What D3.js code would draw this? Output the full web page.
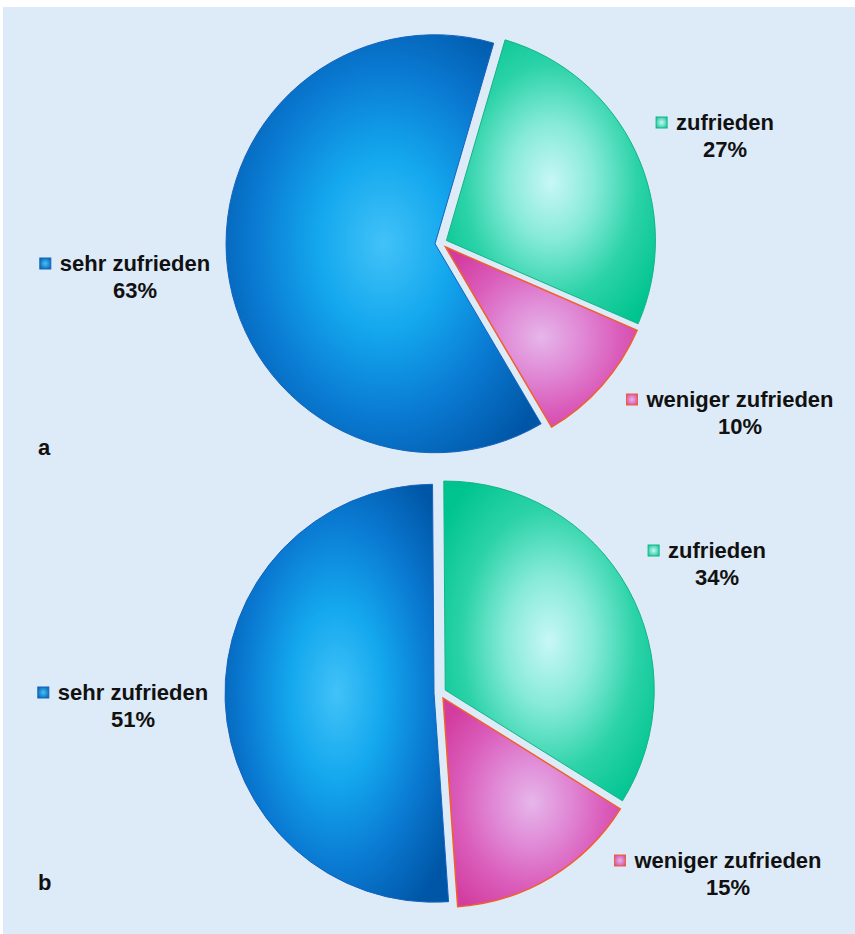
<!DOCTYPE html>
<html>
<head>
<meta charset="utf-8">
<title>Zufriedenheit</title>
<script src="https://cdn.jsdelivr.net/npm/d3@7/dist/d3.min.js"></script>
<style>
    body { margin:0; background:#fff; }
    svg { display:block; }
    .lbl { font-family:'Liberation Sans', Arial, sans-serif; font-weight:bold; font-size:22px; fill:#111; }
</style>
</head>
<body>
<svg id="svg" width="855" height="934"></svg>
<script>
// data
const categories = ["sehr zufrieden", "zufrieden", "weniger zufrieden"];
const valuesA = [63, 27, 10];
const valuesB = [51, 34, 15];
const panelLabels = ["a", "b"];

// look
const fills = [
    ["#42c2f8", "#14a8ee", "#0a7ad2", "#0056a6"],
    ["#c8f7f6", "#86ead9", "#2cd3a8", "#00c48f"],
    ["#e6b6ea", "#e08ad6", "#da5cba", "#d23c9e"]
];
const strokes = ["#1464c0", "#14b486", "#f0602a"];

const W = 855, H = 934;
const radius = 209;
const explode = 6;

// pie centre, start angle (deg) and label anchors (relative to centre)
const pies = [
    { values: valuesA, cx: 441, cy: 243, start: -210.5,
      labels: [[-306, 28], [284, -113], [299, 164]], tag: [38, 455] },
    { values: valuesB, cx: 440, cy: 693, start: -184,
      labels: [[-307, 7], [277, -135], [288, 175]], tag: [38, 890] }
];

let svg = d3.select('#svg');
svg.append('rect')
    .attr('x', 3).attr('y', 7)
    .attr('width', W - 3).attr('height', H - 7)
    .attr('fill', '#ddeaf7');

let defs = svg.append('defs');
fills.forEach((stops, i) => {
    let g = defs.append('radialGradient')
        .attr('id', 'grad' + i)
        .attr('cx', '50%').attr('cy', '50%').attr('r', '62%');
    stops.forEach((c, j) => {
        g.append('stop')
            .attr('offset', (j / (stops.length - 1) * 100) + '%')
            .attr('stop-color', c);
    });
    // small legend key gradient
    let k = defs.append('radialGradient').attr('id', 'key' + i).attr('r', '70%');
    k.append('stop').attr('offset', '0%').attr('stop-color', stops[0]);
    k.append('stop').attr('offset', '100%').attr('stop-color', stops[3]);
});

let arc = d3.arc().innerRadius(0).outerRadius(radius);

pies.forEach((p) => {
    let pie = d3.pie().sort(null)
        .startAngle(p.start * Math.PI / 180)
        .endAngle((p.start + 360) * Math.PI / 180);
    let arcs = pie(p.values);

    let g = svg.append('g').attr('transform', `translate(${p.cx},${p.cy})`);

    g.selectAll('path')
        .data(arcs)
        .enter().append('path')
        .attr('transform', d => {
            let a = (d.startAngle + d.endAngle) / 2;
            return `translate(${Math.sin(a) * explode},${-Math.cos(a) * explode})`;
        })
        .attr('d', arc)
        .attr('fill', (d, i) => `url(#grad${i})`)
        .attr('stroke', (d, i) => strokes[i])
        .attr('stroke-width', (d, i) => i == 2 ? 1.5 : 1);

    // data labels: key + name, percent below
    arcs.forEach((d, i) => {
        let lx = p.cx + p.labels[i][0];
        let ly = p.cy + p.labels[i][1];
        let t = svg.append('text')
            .attr('class', 'lbl')
            .attr('x', lx).attr('y', ly)
            .attr('text-anchor', 'middle')
            .text(categories[i]);
        let w = t.node().getComputedTextLength();
        svg.append('rect')
            .attr('x', lx - w / 2 - 20).attr('y', ly - 13)
            .attr('width', 11).attr('height', 11)
            .attr('fill', `url(#key${i})`)
            .attr('stroke', strokes[i])
            .attr('stroke-width', 1);
        svg.append('text')
            .attr('class', 'lbl')
            .attr('x', lx).attr('y', ly + 27)
            .attr('text-anchor', 'middle')
            .text(d.data + '%');
    });
});

pies.forEach((p, i) => {
    svg.append('text')
        .attr('class', 'lbl')
        .attr('x', p.tag[0]).attr('y', p.tag[1])
        .text(panelLabels[i]);
});
</script>
</body>
</html>
